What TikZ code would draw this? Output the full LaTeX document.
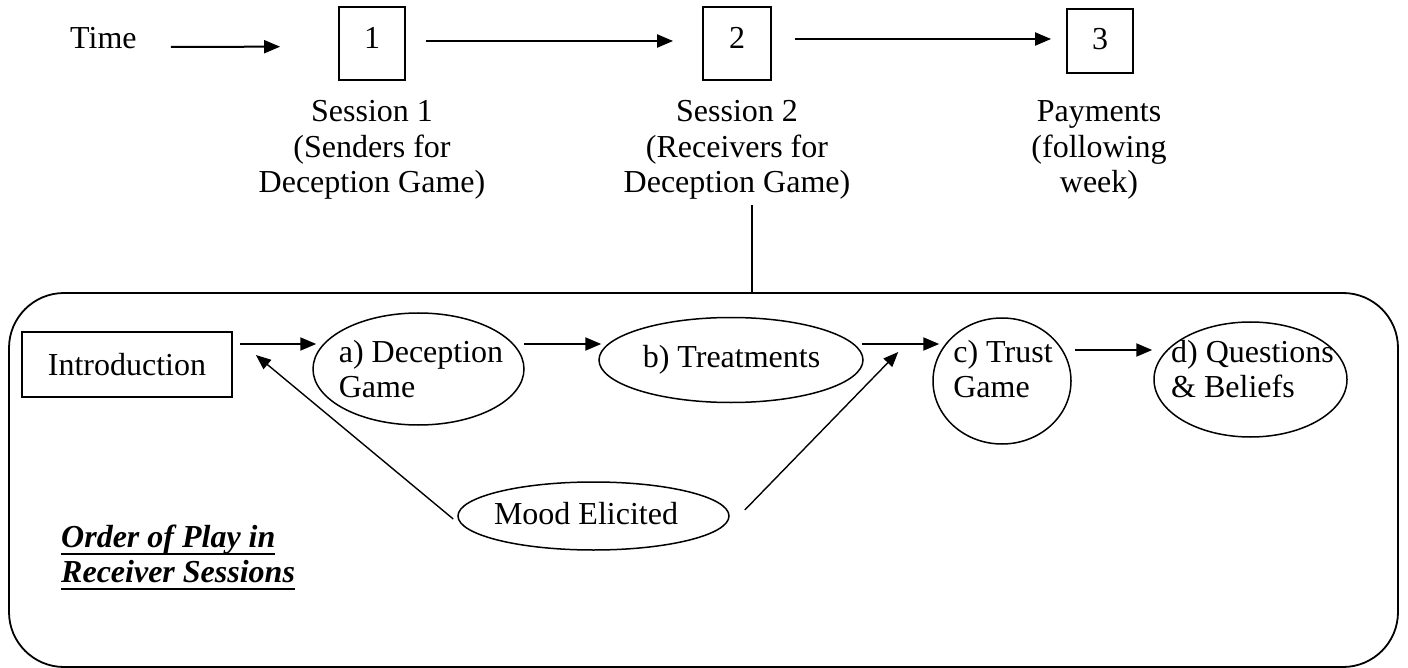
\documentclass[tikz,border=0pt]{standalone}
\usepackage{fontspec}
\setmainfont{Liberation Serif}
\usetikzlibrary{arrows.meta,shapes.geometric}
\newcommand\myunderline[1]{\setbox0\hbox{#1}\rlap{\rule[-8pt]{\wd0}{2.5pt}}\box0}
\begin{document}
\begin{tikzpicture}[x=1pt,y=-1pt,
  every node/.style={font=\fontsize{32}{35.5}\selectfont, inner sep=0pt},
  box/.style={draw, line width=1.8pt, minimum width=66pt, minimum height=73pt, text height=21pt, text depth=10pt},
  ell/.style={draw, ellipse, line width=1.5pt},
  arr/.style={line width=2pt, -{Triangle[length=16pt,width=13pt]}},
  thinarr/.style={line width=1.4pt, -{Triangle[length=15pt,width=12pt]}},
  lbl/.style={align=center, anchor=base}]
\useasboundingbox (0,0) rectangle (1408,668);

% top time line
\node[anchor=base west] (time) at (70,49) {Time};
\node[box] (b1) at (372,43.5) {1};
\node[box, minimum width=68pt] (b2) at (737,43.5) {2};
\node[box, minimum height=64pt, text depth=3pt] (b3) at (1100,41) {3};
\node[lbl] (s1) at (372,193) {Session 1\\(Senders for\\Deception Game)};
\node[lbl] (s2) at (737,193) {Session 2\\(Receivers for\\Deception Game)};
\node[lbl] (s3) at (1099,193) {Payments\\(following\\week)};

\draw[arr] ([xshift=34pt,yshift=-8.3pt]time.east) -- ([xshift=-58pt,yshift=-3.2pt]b1.west);
\draw[arr] ([xshift=20pt,yshift=2.5pt]b1.east) -- ([xshift=-29pt,yshift=2.5pt]b2.west);
\draw[arr] ([xshift=23pt,yshift=4.5pt]b2.east) -- ([xshift=-15pt,yshift=2pt]b3.west);

% frame
\node[draw, line width=1.8pt, rounded corners=55pt, minimum width=1389pt, minimum height=374pt] (frame) at (703.5,480) {};
\coordinate (vt) at (752,205);
\draw[line width=1.5pt] (vt) -- (vt |- frame.north);

% inner flow
\node[draw, line width=1.8pt, minimum width=210pt, minimum height=65pt] (intro) at (127,364.5) {Introduction};
\node[ell, minimum width=211pt, minimum height=112pt] (a) at (418.5,369) {};
\node[align=left] (at) at (421,369) {a) Deception\\Game};
\node[ell, minimum width=264pt, minimum height=85pt] (b) at (731,360) {};
\node (bt) at (731.5,360) {b) Treatments};
\node[ell, minimum width=138pt, minimum height=126pt] (c) at (1002,381) {};
\node[align=left] (ct) at (1003,369) {c) Trust\\Game};
\node[ell, minimum width=193pt, minimum height=115pt] (d) at (1250.5,379.5) {};
\node[align=left] (dt) at (1252.5,369) {d) Questions\\\& Beliefs};
\node[ell, minimum width=271pt, minimum height=68pt] (mood) at (593.5,516) {};
\node (moodt) at (586,514) {Mood Elicited};

\draw[arr] ([xshift=7pt,yshift=20.5pt]intro.east) -- ([xshift=4pt,yshift=25pt]a.west);
\draw[arr] ([xshift=-1pt,yshift=25pt]a.east) -- ([xshift=3pt,yshift=16pt]b.west);
\draw[arr] ([xshift=-2pt,yshift=16pt]b.east) -- ([xshift=7pt,yshift=37pt]c.west);
\draw[arr] ([xshift=3pt,yshift=31pt]c.east) -- ([xshift=-1pt,yshift=29.5pt]d.west);

\draw[thinarr] ([xshift=-4pt,yshift=-3pt]mood.west) -- ([xshift=23pt,yshift=9.5pt]intro.east);
\draw[thinarr] ([xshift=15pt,yshift=6pt]mood.east) -- ([xshift=-34pt,yshift=29pt]c.west);

\node[anchor=base west, align=left, font=\fontsize{32}{35}\selectfont\bfseries\itshape] (op) at (61,582)
  {\myunderline{Order of Play in}\\\myunderline{Receiver Sessions}};
\end{tikzpicture}
\end{document}
